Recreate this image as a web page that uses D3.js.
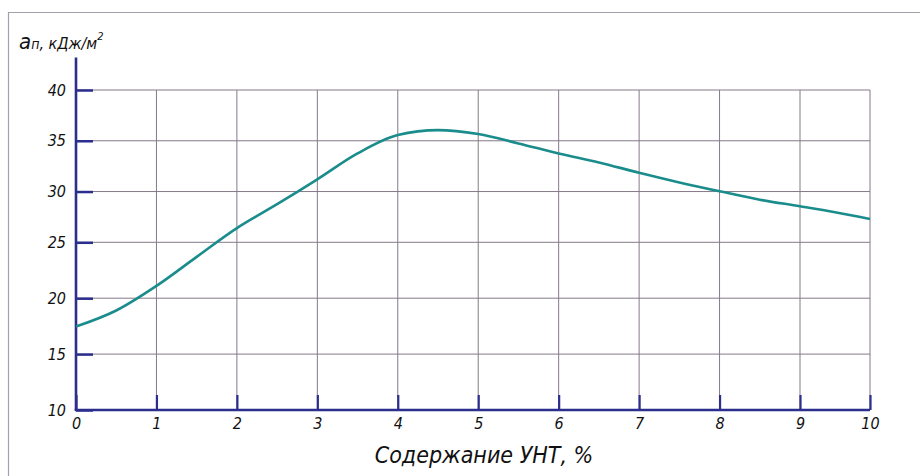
<!DOCTYPE html>
<html lang="ru">
<head>
<meta charset="UTF-8">
<script src="https://d3js.org/d3.v7.min.js"></script>
<style>
  body { margin: 0; background: #fff; }
  svg text { font-family: "Liberation Sans Narrow", "DejaVu Sans Condensed", sans-serif; font-style: italic; fill: #111; }
</style>
</head>
<body>
<svg width="920" height="476"></svg>
<script>
// content of CNT (%) and impact strength values
var content = [0, 0.5, 1, 1.5, 2, 2.5, 3, 3.5, 4, 4.5, 5, 5.5, 6, 6.5, 7, 7.5, 8, 8.5, 9, 9.5, 10];
var strength = [17.46, 18.9, 21.1, 23.7, 26.4, 28.75, 31.2, 33.75, 35.56, 36.05, 35.66, 34.74, 33.75, 32.87, 31.85, 30.9, 30.03, 29.2, 28.55, 27.96, 27.3];
var xTicks = [0, 1, 2, 3, 4, 5, 6, 7, 8, 9, 10];
var yTicks = [10, 15, 20, 25, 30, 35, 40];
var xTitle = "Содержание УНТ, %";

var svg = d3.select("svg");

// the hand drawn grid is a bit uneven, so piecewise scales
var x = d3.scaleLinear().domain([0, 9, 10]).range([76, 800, 870]);
var y = d3.scaleLinear().domain([10, 25, 40]).range([410, 242.3, 90]);

var navy = "#2b2e8c";
var grid = "#85798a";

// frame around the picture (only left & top visible)
svg.append("path")
  .attr("d", "M8.5,476 V12.5 H920")
  .attr("fill", "none").attr("stroke", "#a59fab").attr("stroke-width", 1.2);

// grid
svg.append("g").selectAll("line")
  .data(yTicks.slice(1))
  .enter().append("line")
  .attr("x1", x(0)).attr("x2", x(10))
  .attr("y1", function(d) { return y(d); }).attr("y2", function(d) { return y(d); })
  .attr("stroke", grid).attr("stroke-width", 1);
svg.append("g").selectAll("line")
  .data(xTicks.slice(1))
  .enter().append("line")
  .attr("x1", function(d) { return x(d); }).attr("x2", function(d) { return x(d); })
  .attr("y1", y(40)).attr("y2", y(10))
  .attr("stroke", grid).attr("stroke-width", 1);

// axes
var yAxis = d3.axisLeft(y).tickValues(yTicks).tickSizeInner(-17).tickSizeOuter(0).tickPadding(10);
var gy = svg.append("g").attr("transform", "translate(" + x(0) + ",0)").call(yAxis);
gy.select(".domain").remove();
gy.selectAll(".tick line").attr("stroke", navy).attr("stroke-width", 2.5);
gy.selectAll(".tick text").attr("font-size", 16).attr("font-family", null);

var xAxis = d3.axisBottom(x).tickValues(xTicks).tickSizeInner(-15).tickSizeOuter(0).tickPadding(8);
var gx = svg.append("g").attr("transform", "translate(0," + y(10) + ")").call(xAxis);
gx.select(".domain").remove();
gx.selectAll(".tick line").attr("stroke", navy).attr("stroke-width", 2.2);
gx.selectAll(".tick text").attr("font-size", 16).attr("font-family", null);

// axis lines
svg.append("line")
  .attr("x1", x(0)).attr("x2", x(0)).attr("y1", y(43.2)).attr("y2", y(10))
  .attr("stroke", navy).attr("stroke-width", 2.6);
svg.append("line")
  .attr("x1", x(0) - 1.3).attr("x2", x(10)).attr("y1", y(10)).attr("y2", y(10))
  .attr("stroke", navy).attr("stroke-width", 2.6);

// curve
var line = d3.line()
  .x(function(d, i) { return x(content[i]); })
  .y(function(d) { return y(d); })
  .curve(d3.curveMonotoneX);
svg.append("path")
  .datum(strength)
  .attr("d", line)
  .attr("fill", "none")
  .attr("stroke", "#1b8c8c")
  .attr("stroke-width", 2.6);

// titles
var yt = svg.append("text").attr("x", 19).attr("y", 49);
yt.append("tspan").attr("font-size", 22).text("a");
yt.append("tspan").attr("font-size", 14).text("п");
yt.append("tspan").attr("font-size", 16).text(", кДж/м");
yt.append("tspan").attr("font-size", 11).attr("dy", -9).text("2");

svg.append("text")
  .attr("x", 484).attr("y", 463)
  .attr("text-anchor", "middle")
  .attr("font-size", 23)
  .text(xTitle);
</script>
</body>
</html>
